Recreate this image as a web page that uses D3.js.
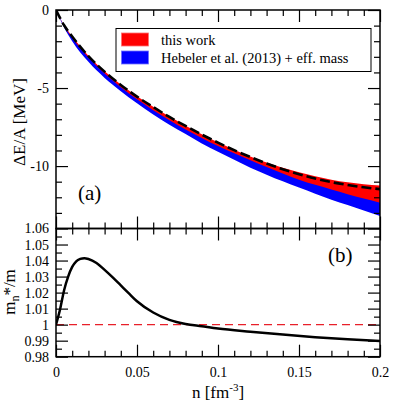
<!DOCTYPE html>
<html><head><meta charset="utf-8">
<script src="https://cdn.jsdelivr.net/npm/d3@7"></script>
<style>
body{margin:0;background:#fff}
svg{display:block}
</style>
</head><body>
<svg id="c" width="395" height="405"></svg>
<script>
// ---------- data ----------
const nGrid      = [0, 0.005, 0.01, 0.02, 0.03, 0.04, 0.05, 0.06, 0.07, 0.08, 0.09, 0.10, 0.11, 0.12, 0.13, 0.14, 0.15, 0.16, 0.17, 0.18, 0.19, 0.20];
const dashedCurve= [0, -0.98, -1.70, -2.95, -3.95, -4.80, -5.55, -6.22, -6.85, -7.43, -7.98, -8.50, -8.98, -9.42, -9.83, -10.20, -10.52, -10.80, -11.03, -11.21, -11.36, -11.48];
const thisWorkHi = [0, -0.97, -1.68, -2.93, -3.93, -4.78, -5.53, -6.20, -6.83, -7.41, -7.96, -8.48, -8.95, -9.38, -9.77, -10.11, -10.40, -10.66, -10.87, -11.04, -11.17, -11.25];
const thisWorkLo = [0, -1.02, -1.78, -3.05, -4.07, -4.95, -5.72, -6.42, -7.06, -7.65, -8.20, -8.72, -9.18, -9.63, -10.06, -10.47, -10.87, -11.20, -11.50, -11.80, -12.08, -12.35];
const hebelerHi  = [0, -0.99, -1.72, -2.98, -3.98, -4.83, -5.58, -6.26, -6.90, -7.49, -8.05, -8.57, -9.07, -9.55, -10.00, -10.40, -10.78, -11.10, -11.40, -11.68, -11.95, -12.20];
const hebelerLo  = [0, -1.12, -2.00, -3.32, -4.35, -5.20, -5.98, -6.70, -7.35, -7.95, -8.55, -9.08, -9.60, -10.10, -10.55, -10.98, -11.38, -11.77, -12.15, -12.50, -12.85, -13.20];

const nMass     = [0, 0.0025, 0.005, 0.0075, 0.01, 0.0125, 0.015, 0.0175, 0.02, 0.025, 0.03, 0.035, 0.04, 0.045, 0.05, 0.06, 0.07, 0.08, 0.09, 0.10, 0.12, 0.14, 0.16, 0.18, 0.20];
const massRatio = [1.0, 1.0095, 1.0215, 1.0300, 1.0360, 1.0395, 1.0410, 1.0415, 1.0410, 1.0385, 1.0342, 1.0295, 1.0245, 1.0195, 1.0146, 1.0076, 1.0030, 1.0004, 0.9990, 0.9976, 0.9956, 0.9938, 0.9922, 0.9909, 0.9898];
const refLine   = [1.0, 1.0];
const refN      = [0, 0.2];

const xMajor = [0, 0.05, 0.1, 0.15, 0.2];
const xLabels = ["0", "0.05", "0.1", "0.15", "0.2"];
const xMinor = [0.01,0.02,0.03,0.04,0.06,0.07,0.08,0.09,0.11,0.12,0.13,0.14,0.16,0.17,0.18,0.19];
const yAMajor = [0, -5, -10];
const yALabels = ["0", "-5", "-10"];
const yAMinor = [-1,-2,-3,-4,-6,-7,-8,-9,-11,-12,-13];
const yBMajor = [0.98, 0.99, 1.0, 1.01, 1.02, 1.03, 1.04, 1.05, 1.06];
const yBLabels = ["0.98", "0.99", "1", "1.01", "1.02", "1.03", "1.04", "1.05", "1.06"];
const yBMinor = [0.985, 0.995, 1.005, 1.015, 1.025, 1.035, 1.045, 1.055];

const legendLabels = ["this work", "Hebeler et al. (2013) + eff. mass"];
const legendColors = ["#ff0000", "#0000ff"];

// ---------- layout ----------
const FONT = "'Liberation Serif', 'Times New Roman', Times, 'DejaVu Serif', serif";
const L = 56, R = 380, T = 10, M = 228.5, B = 356.7;
const svg = d3.select("#c").style("font-family", FONT);
const x = d3.scaleLinear().domain([0, 0.2]).range([L, R]);
const yA = d3.scaleLinear().domain([-14, 0]).range([M, T]);
const yB = d3.scaleLinear().domain([0.98, 1.06]).range([B, M]);

const MAJ = 12, MIN = 6;

svg.append("clipPath").attr("id","clipA").append("rect").attr("x",L).attr("y",T).attr("width",R-L).attr("height",M-T);
svg.append("clipPath").attr("id","clipB").append("rect").attr("x",L).attr("y",M).attr("width",R-L).attr("height",B-M);

// ---------- panel (a) ----------
const gA = svg.append("g").attr("clip-path","url(#clipA)");
const areaGen = (hi, lo) => d3.area().x((d,i)=>x(nGrid[i])).y0((d,i)=>yA(lo[i])).y1((d,i)=>yA(hi[i])).curve(d3.curveMonotoneX);
gA.append("path").datum(nGrid).attr("d", areaGen(hebelerHi, hebelerLo)).attr("fill","#0000ff");
gA.append("path").datum(nGrid).attr("d", areaGen(thisWorkHi, thisWorkLo)).attr("fill","#ff0000");
gA.append("path").datum(nGrid)
  .attr("d", d3.line().x((d,i)=>x(nGrid[i])).y((d,i)=>yA(dashedCurve[i])).curve(d3.curveMonotoneX))
  .attr("fill","none").attr("stroke","#000").attr("stroke-width",2.6).attr("stroke-dasharray","10,4");

// ---------- panel (b) ----------
const gB = svg.append("g").attr("clip-path","url(#clipB)");
gB.append("path").datum(refN)
  .attr("d", d3.line().x((d,i)=>x(refN[i])).y((d,i)=>yB(refLine[i])))
  .attr("fill","none").attr("stroke","#e8202a").attr("stroke-width",1.3).attr("stroke-dasharray","8,5");
gB.append("path").datum(nMass)
  .attr("d", d3.line().x((d,i)=>x(nMass[i])).y((d,i)=>yB(massRatio[i])).curve(d3.curveMonotoneX))
  .attr("fill","none").attr("stroke","#000").attr("stroke-width",2.5);

// ---------- axes ----------
function ax(gen, tx, ty, vals, size, labels, pad) {
  const a = gen.tickValues(vals).tickSize(-size).tickPadding(pad || 7)
    .tickFormat(labels ? ((d,i)=>labels[i]) : "");
  const g = svg.append("g").attr("transform",`translate(${tx},${ty})`).call(a)
    .attr("font-family", null).style("font-family", FONT);
  g.select(".domain").remove();
  g.selectAll(".tick line").attr("stroke","#000").attr("stroke-width",1.2);
  g.selectAll("text").attr("font-size","14px").style("font-family", FONT).attr("fill","#000");
  return g;
}
// panel a
ax(d3.axisLeft(yA), L, 0, yAMajor, MAJ, yALabels, 7);
ax(d3.axisLeft(yA), L, 0, yAMinor, MIN, null);
ax(d3.axisRight(yA), R, 0, yAMajor, MAJ, null);
ax(d3.axisRight(yA), R, 0, yAMinor, MIN, null);
ax(d3.axisTop(x), 0, T, xMajor, MAJ, null);
ax(d3.axisTop(x), 0, T, xMinor, MIN, null);
ax(d3.axisBottom(x), 0, M, xMajor, MAJ, null);
ax(d3.axisBottom(x), 0, M, xMinor, MIN, null);
// panel b
ax(d3.axisLeft(yB), L, 0, yBMajor, MAJ, yBLabels, 7);
ax(d3.axisLeft(yB), L, 0, yBMinor, MIN, null);
ax(d3.axisRight(yB), R, 0, yBMajor, MAJ, null);
ax(d3.axisRight(yB), R, 0, yBMinor, MIN, null);
ax(d3.axisTop(x), 0, M, xMajor, MAJ, null);
ax(d3.axisTop(x), 0, M, xMinor, MIN, null);
ax(d3.axisBottom(x), 0, B, xMajor, MAJ, xLabels, 10);
ax(d3.axisBottom(x), 0, B, xMinor, MIN, null);

// frames
svg.append("rect").attr("x",L).attr("y",T).attr("width",R-L).attr("height",M-T).attr("fill","none").attr("stroke","#000").attr("stroke-width",1.5);
svg.append("rect").attr("x",L).attr("y",M).attr("width",R-L).attr("height",B-M).attr("fill","none").attr("stroke","#000").attr("stroke-width",1.5);

// ---------- legend ----------
const lg = svg.append("g");
lg.append("rect").attr("x",116).attr("y",28.5).attr("width",255).attr("height",43).attr("fill","#fff").attr("stroke","#000").attr("stroke-width",1);
legendLabels.forEach((lab,i)=>{
  lg.append("rect").attr("x",121.5).attr("y",33+i*18).attr("width",27).attr("height",13)
    .attr("fill",legendColors[i]).attr("stroke",i===0?"#ff7070":"#7070ff").attr("stroke-width",0.8);
  lg.append("text").attr("x",161).attr("y",45+i*18).attr("font-size","14.5px").text(lab);
});

// ---------- labels ----------
svg.append("text").attr("x",78).attr("y",200).attr("font-size","21px").text("(a)");
svg.append("text").attr("x",328).attr("y",262).attr("font-size","21px").text("(b)");

svg.append("text").attr("transform","translate(25,122) rotate(-90)").attr("text-anchor","middle")
  .attr("font-size","17px").text("ΔE/A [MeV]");
const my = svg.append("text").attr("transform","translate(15,292) rotate(-90)").attr("text-anchor","middle").attr("font-size","17px");
my.append("tspan").text("m");
my.append("tspan").attr("font-size","12px").attr("dy","4").text("n");
my.append("tspan").attr("dy","-4").text("*/m");

const xt = svg.append("text").attr("x",218).attr("y",398).attr("text-anchor","middle").attr("font-size","17px");
xt.append("tspan").text("n [fm");
xt.append("tspan").attr("font-size","11px").attr("dy","-7").text("-3");
xt.append("tspan").attr("dy","7").text("]");
</script>
</body></html>
